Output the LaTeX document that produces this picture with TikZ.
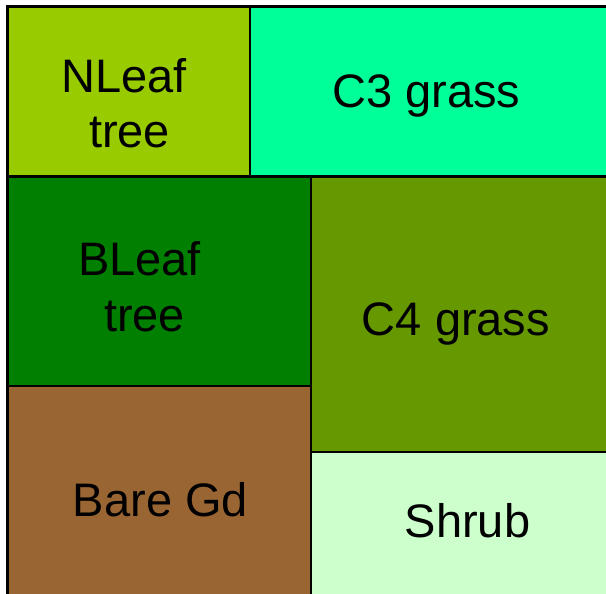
\documentclass[tikz,border=0pt]{standalone}
\usepackage{fontspec}
\setmainfont{Liberation Sans}
\definecolor{nleafc}{HTML}{99CC00}
\definecolor{cthree}{HTML}{00FF99}
\definecolor{bleafc}{HTML}{007F00}
\definecolor{cfour}{HTML}{669900}
\definecolor{barec}{HTML}{996633}
\definecolor{shrubc}{HTML}{CCFFCC}
\begin{document}
\begin{tikzpicture}[x=1pt,y=-1pt,
  cell/.style={draw=black,line width=2.5pt},
  lbl/.style={anchor=base,inner sep=0pt,font=\fontsize{47}{56}\selectfont}]
\useasboundingbox (0,0) rectangle (606,594);
\clip (0,0) rectangle (606,594);
% plant functional type tiles
\filldraw[cell,fill=nleafc] (7.5,6.5) rectangle (250,176.5);
\filldraw[cell,fill=cthree] (250,6.5) rectangle (612,176.5);
\filldraw[cell,fill=bleafc] (7.5,176.5) rectangle (311,386);
\filldraw[cell,fill=cfour] (311,176.5) rectangle (612,452);
\filldraw[cell,fill=barec] (7.5,386) rectangle (311,600);
\filldraw[cell,fill=shrubc] (311,452) rectangle (612,600);
% labels
\node[lbl] (nleafa) at (124,93) {NLeaf};
\node[lbl] (nleafb) at (129.5,148) {tree};
\node[lbl] (cthreel) at (426.5,107) {C3 grass};
\node[lbl] (bleafa) at (139.5,275) {BLeaf};
\node[lbl] (bleafb) at (144.5,331) {tree};
\node[lbl] (cfourl) at (456,335) {C4 grass};
\node[lbl] (barel) at (160.5,516) {Bare Gd};
\node[lbl] (shrubl) at (467.5,537) {Shrub};
\end{tikzpicture}
\end{document}
